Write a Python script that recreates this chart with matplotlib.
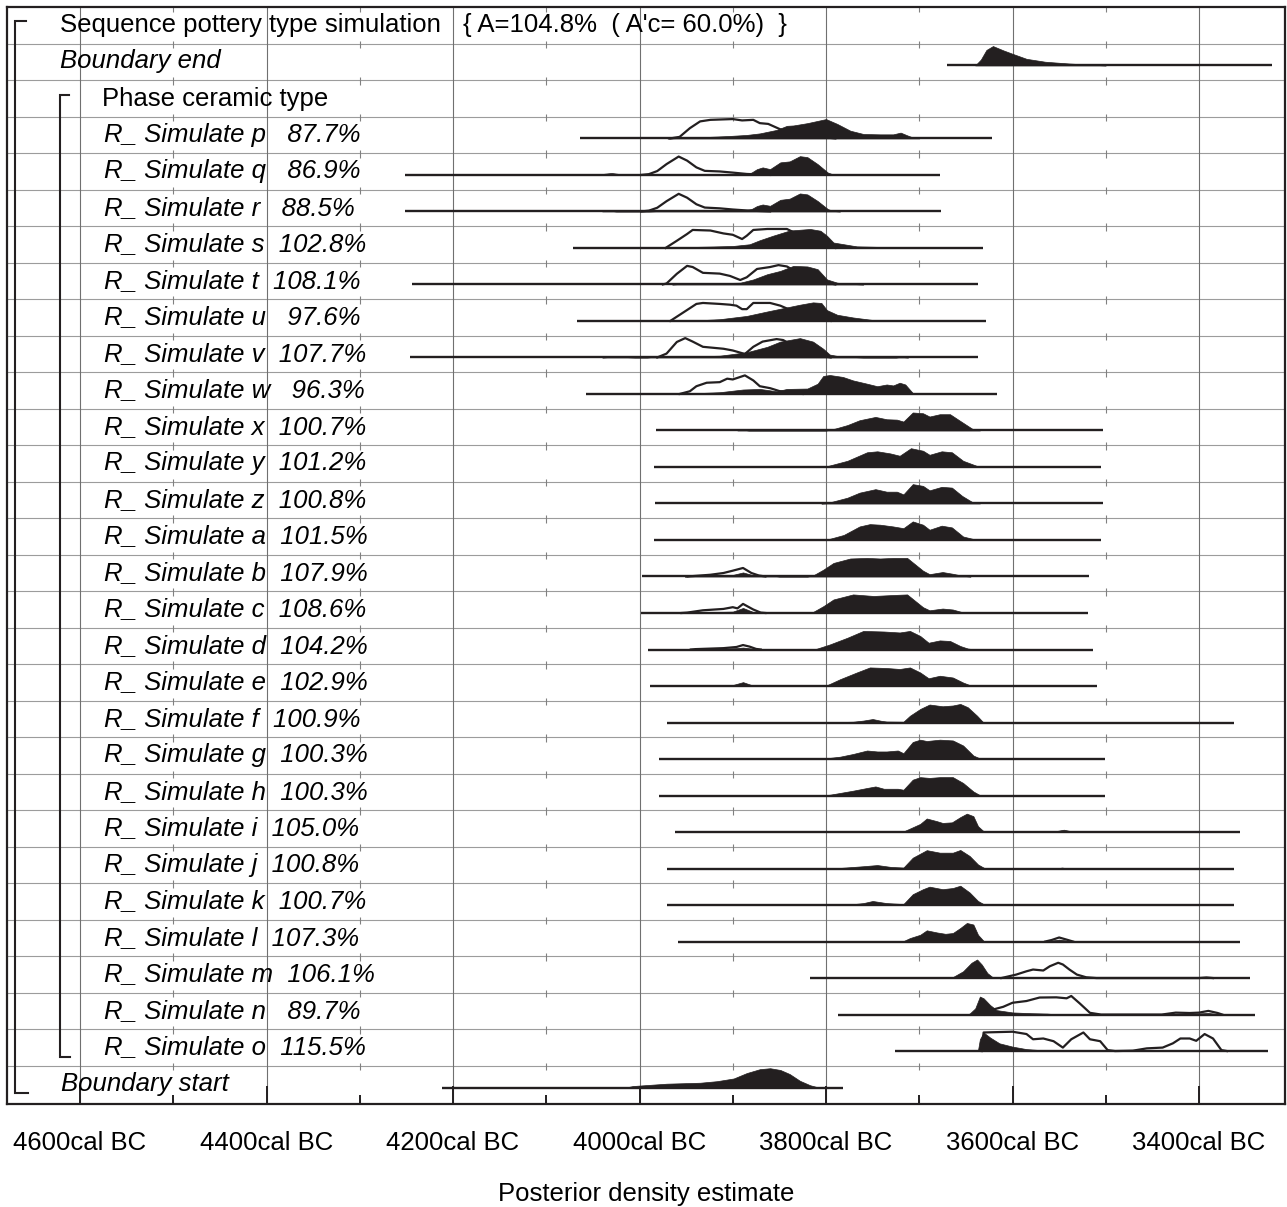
import numpy as np
import matplotlib.pyplot as plt

plt.rcParams['font.family'] = ['Liberation Sans', 'DejaVu Sans']

# ---- data -------------------------------------------------------------
title = "Sequence pottery type simulation"
title_stats = "{ A=104.8%  ( A'c= 60.0%)  }"
phase_name = "Phase ceramic type"

sim_letters = list("pqrstuvwxyzabcdefghijklmno")
sim_agreement = [87.7, 86.9, 88.5, 102.8, 108.1, 97.6, 107.7, 96.3,
                 100.7, 101.2, 100.8, 101.5, 107.9, 108.6, 104.2, 102.9,
                 100.9, 100.3, 100.3, 105.0, 100.8, 100.7, 107.3, 106.1,
                 89.7, 115.5]

# distribution rows: Boundary end, the 26 simulations, Boundary start
dist_rows = [1] + list(range(3, 29)) + [29]

# full range bars (cal BC)
range_from = [3670, 4064, 4251, 4251, 4071, 4244, 4067, 4246, 4057,
              3982, 3984, 3983, 3985, 3997, 3998, 3991, 3989,
              3970, 3979, 3979, 3962, 3970, 3971, 3959, 3817,
              3787, 3726, 4212]
range_to = [3322, 3622, 3678, 3677, 3632, 3637, 3628, 3637, 3617,
            3503, 3505, 3503, 3505, 3518, 3519, 3514, 3509,
            3363, 3501, 3501, 3356, 3362, 3363, 3356, 3345,
            3340, 3326, 3782]

# posterior densities (year BC, relative height), filled
posterior_pts = [
    [(3640, 0), (3634, 0.3), (3628, 0.8), (3621, 1.0), (3610, 0.78), (3600, 0.6), (3585, 0.34),
     (3565, 0.19), (3540, 0.1), (3515, 0.03), (3500, 0)],
    # p
    [(3970, 0), (3950, 0.03), (3930, 0.07), (3906, 0.12), (3885, 0.18), (3871, 0.26), (3853, 0.44),
     (3842, 0.65), (3835, 0.67), (3820, 0.79), (3800, 1.0), (3788, 0.75), (3774, 0.40), (3760, 0.23),
     (3742, 0.21), (3728, 0.21), (3720, 0.30), (3713, 0.16), (3707, 0.05), (3700, 0)],
    # q
    [(4045, 0), (4038, 0.06), (4030, 0.1), (4022, 0.05), (4015, 0), (3995, 0), (3985, 0.03), (3890, 0.03),
     (3880, 0.12), (3874, 0.30), (3868, 0.39), (3860, 0.30), (3849, 0.65), (3839, 0.70), (3828, 0.97),
     (3820, 0.92), (3809, 0.56), (3798, 0.12), (3792, 0.02), (3785, 0)],
    # r
    [(4040, 0), (4033, 0.04), (4025, 0), (3990, 0), (3980, 0.02), (3890, 0.03), (3880, 0.12), (3874, 0.28),
     (3868, 0.36), (3860, 0.29), (3849, 0.6), (3839, 0.66), (3828, 0.93), (3820, 0.88), (3809, 0.54),
     (3798, 0.12), (3792, 0.02), (3785, 0)],
    # s
    [(3985, 0), (3975, 0.02), (3924, 0.07), (3900, 0.1), (3882, 0.19), (3871, 0.40), (3857, 0.63),
     (3839, 0.9), (3817, 0.98), (3806, 0.89), (3799, 0.63), (3792, 0.28), (3777, 0.16), (3767, 0.08),
     (3740, 0.05), (3710, 0.03), (3700, 0)],
    # t
    [(3965, 0), (3955, 0.03), (3892, 0.09), (3878, 0.26), (3863, 0.53), (3849, 0.7), (3835, 0.96),
     (3820, 0.93), (3809, 0.79), (3799, 0.26), (3788, 0.09), (3775, 0.03), (3760, 0)],
    # u
    [(3950, 0), (3943, 0.02), (3914, 0.09), (3885, 0.26), (3863, 0.49), (3842, 0.7), (3828, 0.84),
     (3814, 0.96), (3805, 0.93), (3799, 0.56), (3788, 0.32), (3771, 0.18), (3750, 0.05), (3721, 0.04),
     (3712, 0)],
    # v
    [(4040, 0), (4030, 0.03), (4015, 0.02), (4005, 0), (3992, 0), (3985, 0.03), (3975, 0.02), (3914, 0.09),
     (3885, 0.27), (3863, 0.55), (3849, 0.82), (3828, 1.0), (3814, 0.82), (3803, 0.45), (3796, 0.15),
     (3785, 0.05), (3770, 0.02), (3760, 0), (3725, 0), (3720, 0.03), (3712, 0)],
    # w
    [(3960, 0), (3945, 0.03), (3914, 0.09), (3889, 0.23), (3871, 0.26), (3853, 0.14), (3842, 0.26),
     (3820, 0.28), (3809, 0.53), (3803, 0.93), (3796, 0.98), (3782, 0.88), (3771, 0.7), (3756, 0.53),
     (3745, 0.4), (3735, 0.49), (3728, 0.44), (3721, 0.58), (3715, 0.49), (3707, 0.05), (3690, 0.03),
     (3670, 0.02), (3660, 0)],
    # x
    [(3895, 0), (3889, 0.04), (3883, 0), (3800, 0), (3790, 0.1), (3777, 0.28), (3764, 0.53), (3747, 0.7),
     (3735, 0.58), (3724, 0.56), (3717, 0.46), (3707, 0.93), (3696, 0.89), (3689, 0.72), (3678, 0.84),
     (3667, 0.84), (3656, 0.49), (3642, 0.05), (3635, 0)],
    # y
    [(3870, 0), (3862, 0.02), (3810, 0.02), (3799, 0.04), (3777, 0.32), (3756, 0.76), (3745, 0.81),
     (3731, 0.70), (3721, 0.58), (3709, 0.97), (3696, 0.84), (3689, 0.63), (3676, 0.81), (3665, 0.76),
     (3653, 0.32), (3638, 0.05), (3630, 0)],
    # z
    [(3805, 0), (3799, 0.02), (3777, 0.3), (3764, 0.56), (3747, 0.74), (3735, 0.61), (3724, 0.61),
     (3717, 0.47), (3707, 1.0), (3696, 0.91), (3689, 0.68), (3676, 0.86), (3665, 0.82), (3654, 0.39),
     (3642, 0.04), (3635, 0)],
    # a
    [(3898, 0), (3892, 0.03), (3885, 0), (3805, 0), (3799, 0.02), (3781, 0.26), (3764, 0.7), (3753, 0.82),
     (3742, 0.79), (3728, 0.7), (3717, 0.61), (3707, 0.96), (3696, 0.79), (3689, 0.53), (3676, 0.74),
     (3665, 0.65), (3653, 0.18), (3642, 0.05), (3635, 0)],
    # b
    [(3950, 0), (3943, 0.03), (3924, 0.05), (3910, 0.07), (3900, 0.08), (3889, 0.21), (3880, 0.09),
     (3871, 0.04), (3857, 0.04), (3850, 0), (3820, 0), (3814, 0.05), (3803, 0.35), (3792, 0.7),
     (3774, 0.93), (3756, 0.96), (3742, 0.93), (3728, 0.96), (3713, 0.96), (3704, 0.61), (3696, 0.3),
     (3689, 0.12), (3675, 0.23), (3664, 0.14), (3653, 0.03), (3645, 0)],
    # c
    [(3955, 0), (3935, 0.05), (3910, 0.06), (3900, 0.07), (3889, 0.26), (3878, 0.05), (3860, 0.03),
     (3850, 0), (3820, 0), (3814, 0.05), (3803, 0.35), (3792, 0.7), (3771, 0.96), (3749, 0.88),
     (3728, 0.93), (3713, 0.96), (3704, 0.61), (3696, 0.3), (3689, 0.14), (3675, 0.23), (3664, 0.18),
     (3653, 0.03), (3645, 0)],
    # d
    [(3945, 0), (3938, 0.03), (3910, 0.05), (3896, 0.07), (3889, 0.1), (3878, 0.04), (3870, 0), (3815, 0),
     (3810, 0.04), (3796, 0.26), (3777, 0.61), (3760, 0.96), (3738, 0.93), (3721, 0.88), (3710, 0.96),
     (3699, 0.7), (3690, 0.35), (3678, 0.47), (3667, 0.44), (3656, 0.18), (3648, 0.05), (3640, 0)],
    # e
    [(3938, 0), (3932, 0.03), (3900, 0.05), (3889, 0.2), (3880, 0.05), (3872, 0), (3805, 0), (3799, 0.04),
     (3785, 0.35), (3767, 0.7), (3753, 0.96), (3735, 0.93), (3721, 0.88), (3710, 0.96), (3699, 0.7),
     (3690, 0.4), (3678, 0.53), (3664, 0.44), (3653, 0.18), (3645, 0.03), (3640, 0)],
    # f
    [(3800, 0), (3792, 0.02), (3771, 0.04), (3760, 0.1), (3750, 0.18), (3740, 0.08), (3735, 0.05),
     (3717, 0.04), (3710, 0.35), (3699, 0.7), (3689, 0.93), (3675, 0.84), (3664, 0.88), (3656, 0.96),
     (3648, 0.79), (3638, 0.35), (3632, 0.04), (3625, 0), (3565, 0), (3558, 0.03), (3542, 0.03), (3535, 0)],
    # g
    [(3805, 0), (3799, 0.04), (3785, 0.12), (3771, 0.26), (3756, 0.44), (3745, 0.39), (3735, 0.39),
     (3723, 0.44), (3717, 0.3), (3707, 0.88), (3699, 1.0), (3692, 0.93), (3678, 1.0), (3664, 0.96),
     (3653, 0.7), (3642, 0.18), (3635, 0.03), (3628, 0)],
    # h
    [(3805, 0), (3796, 0.04), (3771, 0.25), (3756, 0.39), (3747, 0.47), (3738, 0.35), (3723, 0.35),
     (3717, 0.3), (3707, 0.82), (3699, 0.95), (3689, 0.91), (3678, 0.95), (3664, 0.95), (3653, 0.65),
     (3642, 0.21), (3635, 0.02), (3630, 0)],
    # i
    [(3790, 0), (3785, 0.03), (3717, 0.03), (3710, 0.18), (3699, 0.42), (3692, 0.7), (3681, 0.56),
     (3675, 0.47), (3665, 0.5), (3656, 0.77), (3649, 0.95), (3642, 0.82), (3637, 0.3), (3631, 0.04),
     (3625, 0), (3560, 0), (3553, 0.05), (3545, 0.12), (3538, 0.05), (3530, 0)],
    # j
    [(3790, 0), (3785, 0.03), (3760, 0.12), (3745, 0.18), (3730, 0.08), (3717, 0.05), (3707, 0.56),
     (3692, 0.95), (3678, 0.82), (3664, 0.82), (3656, 0.96), (3646, 0.65), (3637, 0.21), (3630, 0.02),
     (3625, 0), (3553, 0), (3547, 0.05), (3540, 0)],
    # k
    [(3780, 0), (3774, 0.03), (3760, 0.1), (3750, 0.21), (3735, 0.1), (3717, 0.05), (3707, 0.56),
     (3696, 0.82), (3689, 0.95), (3675, 0.82), (3664, 0.88), (3656, 1.0), (3646, 0.65), (3637, 0.21),
     (3630, 0.02), (3625, 0)],
    # l
    [(3718, 0), (3710, 0.18), (3699, 0.35), (3692, 0.58), (3681, 0.47), (3672, 0.4), (3664, 0.44),
     (3656, 0.7), (3649, 0.96), (3642, 0.88), (3637, 0.35), (3631, 0.03), (3625, 0), (3590, 0),
     (3582, 0.02), (3575, 0), (3565, 0), (3560, 0.04), (3550, 0.1), (3540, 0.04), (3533, 0)],
    # m
    [(3712, 0), (3707, 0.02), (3689, 0.04), (3664, 0.05), (3653, 0.35), (3644, 0.79), (3638, 0.96),
     (3633, 0.7), (3627, 0.26), (3621, 0.03), (3610, 0.02), (3560, 0.02), (3540, 0.01), (3530, 0),
     (3398, 0), (3392, 0.04), (3386, 0)],
    # n
    [(3650, 0), (3646, 0.05), (3640, 0.32), (3635, 0.93), (3631, 0.84), (3624, 0.49), (3617, 0.23),
     (3600, 0.11), (3580, 0.07), (3563, 0.05), (3555, 0.02), (3545, 0), (3440, 0), (3430, 0.04),
     (3410, 0.05), (3400, 0.06), (3390, 0.08), (3380, 0.03), (3375, 0)],
    # o
    [(3640, 0), (3637, 0.05), (3635, 0.61), (3631, 0.96), (3624, 0.7), (3614, 0.4), (3600, 0.23),
     (3585, 0.1), (3567, 0.04), (3555, 0)],
    # Boundary start
    [(4015, 0), (4007, 0.08), (3971, 0.2), (3935, 0.25), (3917, 0.33), (3899, 0.47), (3885, 0.75),
     (3871, 0.95), (3860, 1.0), (3849, 0.91), (3839, 0.7), (3828, 0.35), (3817, 0.12), (3810, 0.03),
     (3805, 0)],
]

# unmodelled (prior) densities, outline only; None where not drawn
prior_pts = [None] * len(dist_rows)
prior_pts[1] = [(3967, 0), (3957, 0.08), (3946, 0.53), (3935, 0.88), (3924, 0.96), (3900, 1.0),
                (3890, 0.93), (3878, 0.96), (3871, 0.79), (3862, 0.75), (3849, 0.47), (3835, 0.3),
                (3820, 0.15), (3800, 0.05), (3790, 0)]
prior_pts[2] = [(3998, 0), (3990, 0.04), (3981, 0.2), (3971, 0.56), (3958, 0.95), (3949, 0.74),
                (3939, 0.39), (3930, 0.21), (3914, 0.18), (3900, 0.12), (3885, 0.05), (3870, 0.02),
                (3860, 0)]
prior_pts[3] = [(3998, 0), (3990, 0.04), (3981, 0.19), (3971, 0.53), (3958, 0.91), (3949, 0.71),
                (3939, 0.37), (3930, 0.2), (3914, 0.16), (3900, 0.1), (3885, 0.05), (3870, 0.02),
                (3860, 0)]
prior_pts[4] = [(3972, 0), (3960, 0.37), (3949, 0.72), (3943, 0.93), (3924, 0.9), (3910, 0.75),
                (3900, 0.68), (3890, 0.46), (3885, 0.63), (3878, 0.93), (3863, 0.98), (3842, 0.98),
                (3830, 0.7), (3815, 0.4), (3800, 0.15), (3790, 0)]
prior_pts[5] = [(3975, 0), (3971, 0.05), (3960, 0.55), (3949, 0.96), (3943, 0.9), (3932, 0.6),
                (3914, 0.56), (3903, 0.44), (3892, 0.23), (3885, 0.37), (3874, 0.8), (3860, 0.9),
                (3851, 1.0), (3842, 0.93), (3830, 0.6), (3815, 0.3), (3800, 0.1), (3790, 0)]
prior_pts[6] = [(3967, 0), (3953, 0.44), (3939, 0.88), (3932, 0.93), (3914, 0.88), (3903, 0.84),
                (3896, 0.79), (3890, 0.61), (3885, 0.61), (3878, 0.93), (3860, 0.93), (3849, 0.79),
                (3835, 0.5), (3820, 0.25), (3805, 0.08), (3795, 0)]
prior_pts[7] = [(3981, 0), (3971, 0.2), (3960, 0.8), (3951, 1.0), (3943, 0.82), (3932, 0.55),
                (3910, 0.45), (3900, 0.36), (3887, 0.18), (3878, 0.55), (3868, 0.82), (3853, 0.95),
                (3846, 0.9), (3835, 0.6), (3820, 0.3), (3805, 0.1), (3795, 0)]
prior_pts[8] = [(3957, 0), (3946, 0.14), (3939, 0.4), (3928, 0.58), (3914, 0.61), (3906, 0.79),
                (3900, 0.75), (3887, 0.96), (3878, 0.7), (3871, 0.4), (3860, 0.3), (3850, 0.15),
                (3835, 0.05), (3825, 0)]
prior_pts[13] = [(3950, 0), (3943, 0.02), (3924, 0.09), (3910, 0.18), (3900, 0.3), (3889, 0.44),
                 (3880, 0.18), (3872, 0.05), (3865, 0)]
prior_pts[14] = [(3955, 0), (3949, 0.02), (3932, 0.14), (3910, 0.21), (3900, 0.3), (3895, 0.24),
                 (3889, 0.47), (3878, 0.18), (3870, 0.02), (3865, 0)]
prior_pts[15] = [(3945, 0), (3940, 0.02), (3910, 0.07), (3896, 0.13), (3889, 0.23), (3882, 0.15),
                 (3875, 0.03), (3870, 0)]
prior_pts[23] = [(3565, 0), (3558, 0.08), (3550, 0.21), (3542, 0.1), (3535, 0)]
prior_pts[24] = [(3612, 0), (3596, 0.18), (3585, 0.35), (3578, 0.44), (3567, 0.39), (3560, 0.61),
                 (3551, 0.79), (3546, 0.7), (3539, 0.44), (3531, 0.18), (3521, 0.04), (3510, 0),
                 (3400, 0), (3392, 0.03), (3385, 0)]
prior_pts[25] = [(3630, 0), (3624, 0.22), (3610, 0.4), (3600, 0.61), (3585, 0.7), (3571, 0.88),
                 (3553, 0.89), (3542, 0.84), (3537, 0.96), (3528, 0.58), (3517, 0.09), (3505, 0),
                 (3440, 0), (3425, 0.1), (3410, 0.08), (3400, 0.1), (3390, 0.19), (3380, 0.08),
                 (3375, 0)]
prior_pts[26] = [(3633, 0), (3631, 0.96), (3624, 0.97), (3600, 1.0), (3585, 0.88), (3578, 0.61),
                 (3567, 0.65), (3556, 0.51), (3546, 0.18), (3537, 0.61), (3524, 0.96), (3517, 0.61),
                 (3506, 0.51), (3498, 0.05), (3490, 0), (3471, 0.02), (3456, 0.14), (3439, 0.18),
                 (3428, 0.4), (3420, 0.65), (3410, 0.65), (3403, 0.53), (3394, 0.88), (3385, 0.65),
                 (3376, 0.05), (3370, 0)]

major_years = [4600, 4400, 4200, 4000, 3800, 3600, 3400]
minor_years = [4500, 4300, 4100, 3900, 3700, 3500]

# ---- drawing ----------------------------------------------------------
ink = '#231f20'
FS = 18.5
BASE = 0.6      # baseline position inside a row
SCALE = 0.53    # peak height as fraction of a row
N_ROWS = 30

W, H = 1287, 1207
fig = plt.figure(figsize=(W / 100, H / 100), dpi=100)
ax = fig.add_axes([7 / W, 1 - 1104 / H, 1278 / W, 1097 / H])
ax.set_xlim(4678.3, 3307.8)
ax.set_ylim(N_ROWS + 0.05, 0)

# grid: row separators, full lines every 200 years, short marks between
for b in range(1, N_ROWS):
    ax.axhline(b, color='#9c9c9c', lw=0.8, zorder=1)
for yr in major_years:
    ax.axvline(yr, color='#707070', lw=0.8, zorder=1)
bounds = np.arange(N_ROWS + 1)
for yr in minor_years:
    ax.vlines(np.full(bounds.size, yr), bounds - 0.08, bounds + 0.13,
              color='#808080', lw=0.8, zorder=1)

for row, r0, r1, post, pri in zip(dist_rows, range_from, range_to, posterior_pts, prior_pts):
    base = row + BASE
    ax.plot([r0, r1], [base, base], color=ink, lw=1.7, solid_capstyle='butt', zorder=5)
    if pri is not None:
        yrs, hts = zip(*pri)
        ax.plot(yrs, base - np.array(hts) * SCALE, color=ink, lw=1.6, zorder=3)
    yrs, hts = zip(*post)
    ax.fill_between(yrs, base, base - np.array(hts) * SCALE, facecolor=ink,
                    edgecolor=ink, lw=0.5, zorder=4)

# row labels
ax.text(4621.4, 0.5, title, fontsize=FS, va='center', ha='left', zorder=6)
ax.text(4189.3, 0.5, title_stats, fontsize=FS, va='center', ha='left', zorder=6)
ax.text(4621.4, 1.48, "Boundary end", fontsize=FS, style='italic', va='center', zorder=6)
ax.text(4576.4, 2.52, phase_name, fontsize=FS, va='center', zorder=6)
for k, (ltr, pct) in enumerate(zip(sim_letters, sim_agreement)):
    ax.text(4574.3, 3.5 + k, f"R_ Simulate {ltr}  {pct:5.1f}%", fontsize=FS,
            style='italic', va='center', zorder=6)
ax.text(4620.4, 29.5, "Boundary start", fontsize=FS, style='italic', va='center', zorder=6)

# sequence and phase brackets
ax.plot([4658, 4669.7, 4669.7, 4656], [0.38, 0.38, 29.75, 29.75], color=ink, lw=1.5,
        solid_joinstyle='miter', zorder=6)
ax.plot([4612, 4621.4, 4621.4, 4611], [2.41, 2.41, 28.77, 28.77], color=ink, lw=1.5,
        solid_joinstyle='miter', zorder=6)

# axis
ax.set_xticks(major_years, labels=[f"{y}cal BC" for y in major_years])
ax.set_xticks(minor_years, minor=True)
ax.tick_params(axis='x', which='major', direction='in', length=13, width=1.4,
               color=ink, labelsize=FS, pad=19.5, top=False)
ax.tick_params(axis='x', which='minor', direction='in', length=6.5, width=1.4,
               color=ink, top=False)
ax.set_yticks([])
for sp in ax.spines.values():
    sp.set_linewidth(1.6)
    sp.set_color(ink)

fig.text(646 / W, 1 - 1194 / H, "Posterior density estimate", fontsize=FS,
         ha='center', va='center')

fig.savefig('out.png', dpi=100, facecolor='white')
